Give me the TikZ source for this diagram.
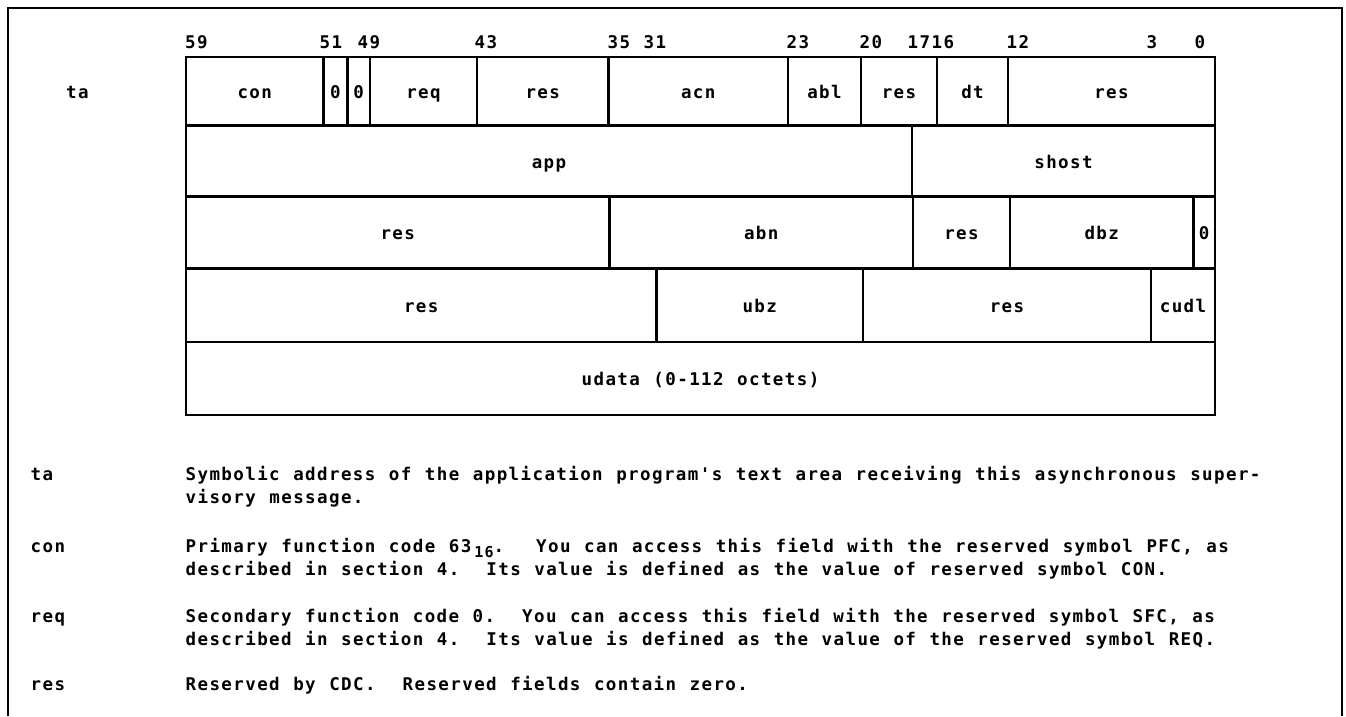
\documentclass[tikz,border=0pt]{standalone}
\usepackage{fontspec}
\setmonofont{DejaVu Sans Mono}[LetterSpace=8,WordSpace=1.133]
\frenchspacing
\tikzset{
  txt/.style={font=\ttfamily\bfseries\fontsize{17.5}{23}\selectfont},
  cell/.style={txt, draw, line width=2.4pt, rectangle, inner sep=0pt, outer sep=0pt,
    text height=14pt, text depth=0pt},
  bitlbl/.style={txt, anchor=base west, inner sep=0pt},
  desc/.style={txt, anchor=base west, inner sep=0pt},
  frame/.style={line width=2pt},
}
\begin{document}
\begin{tikzpicture}[x=1pt,y=-1pt]
\useasboundingbox (0,0) rectangle (1346,716);
% outer frame (open at the bottom)
\coordinate (fbl) at (8,716);
\coordinate (ftl) at (8,7.5);
\coordinate (ftr) at (1342,7.5);
\coordinate (fbr) at (1342,716);
\draw[frame] (fbl) -- (ftl) -- (ftr) -- (fbr);

% bit numbers
\node[bitlbl] (b59) at (185,48.5) {59};
\node[bitlbl] (b51) at (319.5,48.5) {51};
\node[bitlbl] (b49) at (357.5,48.5) {49};
\node[bitlbl] (b43) at (474.5,48.5) {43};
\node[bitlbl] (b35) at (607.5,48.5) {35};
\node[bitlbl] (b31) at (643.5,48.5) {31};
\node[bitlbl] (b23) at (786.5,48.5) {23};
\node[bitlbl] (b20) at (859.5,48.5) {20};
\node[bitlbl] (b1716) at (907.5,48.5) {1716};
\node[bitlbl] (b12) at (1006.5,48.5) {12};
\node[bitlbl] (b3) at (1146.5,48.5) {3};
\node[bitlbl] (b0) at (1194.5,48.5) {0};

% row label
\node[desc] (lta) at (66,98.5) {ta};

% row 1
\node[cell, minimum width=137.5pt, minimum height=68.5pt] (con) at (254.75,91.25) {con};
\node[cell, minimum width=24pt, minimum height=68.5pt] (za) at (335.5,91.25) {0};
\node[cell, minimum width=22.5pt, minimum height=68.5pt] (zb) at (358.75,91.25) {0};
\node[cell, minimum width=107pt, minimum height=68.5pt] (req) at (423.5,91.25) {req};
\node[cell, minimum width=131.5pt, minimum height=68.5pt] (resa) at (542.75,91.25) {res};
\node[cell, minimum width=179.5pt, minimum height=68.5pt] (acn) at (698.25,91.25) {acn};
\node[cell, minimum width=73pt, minimum height=68.5pt] (abl) at (824.5,91.25) {abl};
\node[cell, minimum width=76pt, minimum height=68.5pt] (resb) at (899,91.25) {res};
\node[cell, minimum width=71pt, minimum height=68.5pt] (dt) at (972.5,91.25) {dt};
\node[cell, minimum width=207pt, minimum height=68.5pt] (resc) at (1111.5,91.25) {res};

% row 2
\node[cell, minimum width=726pt, minimum height=71pt] (app) at (549,161) {app};
\node[cell, minimum width=303pt, minimum height=71pt] (shost) at (1063.5,161) {shost};

% row 3
\node[cell, minimum width=423.5pt, minimum height=72pt] (resd) at (397.75,232.5) {res};
\node[cell, minimum width=303.5pt, minimum height=72pt] (abn) at (761.25,232.5) {abn};
\node[cell, minimum width=97pt, minimum height=72pt] (rese) at (961.5,232.5) {res};
\node[cell, minimum width=183.5pt, minimum height=72pt] (dbz) at (1101.75,232.5) {dbz};
\node[cell, minimum width=21.5pt, minimum height=72pt] (zc) at (1204.25,232.5) {0};

% row 4
\node[cell, minimum width=470.5pt, minimum height=73.5pt] (resf) at (421.25,305.25) {res};
\node[cell, minimum width=206.5pt, minimum height=73.5pt] (ubz) at (759.75,305.25) {ubz};
\node[cell, minimum width=288pt, minimum height=73.5pt] (resg) at (1007,305.25) {res};
\node[cell, minimum width=64pt, minimum height=73.5pt] (cudl) at (1183,305.25) {cudl};

% row 5
\node[cell, minimum width=1029pt, minimum height=73pt] (udata) at (700.5,378.5) {udata (0-112 octets)};

% descriptions
\node[desc] (dta) at (30.5,480) {ta};
\node[desc] (dta1) at (185.5,480) {Symbolic address of the application program's text area receiving this asynchronous super-};
\node[desc] (dta2) at (185.5,503) {visory message.};

\node[desc] (dcon) at (30.5,552) {con};
\node[desc] (dcon1) at (185.5,552) {Primary function code 63\hspace{3pt}\raisebox{-5.5pt}{\fontsize{15}{15}\selectfont 16}.\hspace{5pt}\ \ You can access this field with the reserved symbol PFC, as};
\node[desc] (dcon2) at (185.5,575) {described in section 4.\ \ Its value is defined as the value of reserved symbol CON.};

\node[desc] (dreq) at (30.5,622) {req};
\node[desc] (dreq1) at (185.5,622) {Secondary function code 0.\ \ You can access this field with the reserved symbol SFC, as};
\node[desc] (dreq2) at (185.5,645) {described in section 4.\ \ Its value is defined as the value of the reserved symbol REQ.};

\node[desc] (dres) at (30.5,690) {res};
\node[desc] (dres1) at (185.5,690) {Reserved by CDC.\ \ Reserved fields contain zero.};
\end{tikzpicture}
\end{document}
